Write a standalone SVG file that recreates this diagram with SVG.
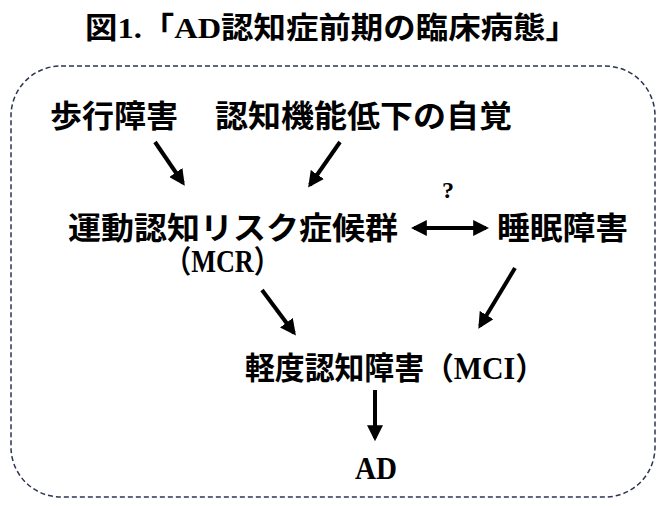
<svg xmlns="http://www.w3.org/2000/svg" width="668" height="506" viewBox="0 0 668 506">
<style>
text{font-family:"Liberation Serif","Noto Sans CJK JP",serif;font-weight:bold;fill:#000}
.t{font-size:31px}
.c{stroke:#000;stroke-width:4;fill:none}
</style>
<defs>
<marker id="a" viewBox="0 0 10 10" refX="8" refY="5" markerWidth="4" markerHeight="4" orient="auto-start-reverse"><path d="M0,0L10,5L0,10z" fill="#000"/></marker>
</defs>
<rect width="668" height="506" fill="#fff"/>
<text x="85" y="38" font-size="30" textLength="493" lengthAdjust="spacingAndGlyphs">図1.「AD認知症前期の臨床病態」</text>
<rect x="11" y="66" width="644" height="431" rx="50" fill="none" stroke="#2b3450" stroke-width="1.5" stroke-dasharray="5,3"/>
<g id="n1"><text class="t" x="50" y="127" textLength="128" lengthAdjust="spacingAndGlyphs">歩行障害</text></g>
<g id="n2"><text class="t" x="215" y="127" textLength="297" lengthAdjust="spacingAndGlyphs">認知機能低下の自覚</text></g>
<g id="n3"><text class="t" x="68" y="239" textLength="330" lengthAdjust="spacingAndGlyphs">運動認知リスク症候群</text><text class="t" x="165" y="272" textLength="115" lengthAdjust="spacingAndGlyphs">（MCR）</text></g>
<g id="n4"><text class="t" x="497" y="239" textLength="131" lengthAdjust="spacingAndGlyphs">睡眠障害</text></g>
<g id="n5"><text class="t" x="245" y="379" textLength="300" lengthAdjust="spacingAndGlyphs">軽度認知障害（MCI）</text></g>
<g id="n6"><text class="t" x="355" y="479" textLength="42" lengthAdjust="spacingAndGlyphs">AD</text></g>
<g id="q"><text x="442" y="198" font-size="24">?</text></g>
<g id="connectors">
<line class="c" x1="155" y1="142" x2="183" y2="183" marker-end="url(#a)"/>
<line class="c" x1="340" y1="142" x2="310" y2="185" marker-end="url(#a)"/>
<line class="c" x1="414" y1="228" x2="486" y2="228" marker-start="url(#a)" marker-end="url(#a)"/>
<line class="c" x1="262" y1="290" x2="294" y2="333" marker-end="url(#a)"/>
<line class="c" x1="515" y1="268" x2="480" y2="326" marker-end="url(#a)"/>
<line class="c" x1="375" y1="390" x2="375" y2="438" marker-end="url(#a)"/>
</g>
</svg>
